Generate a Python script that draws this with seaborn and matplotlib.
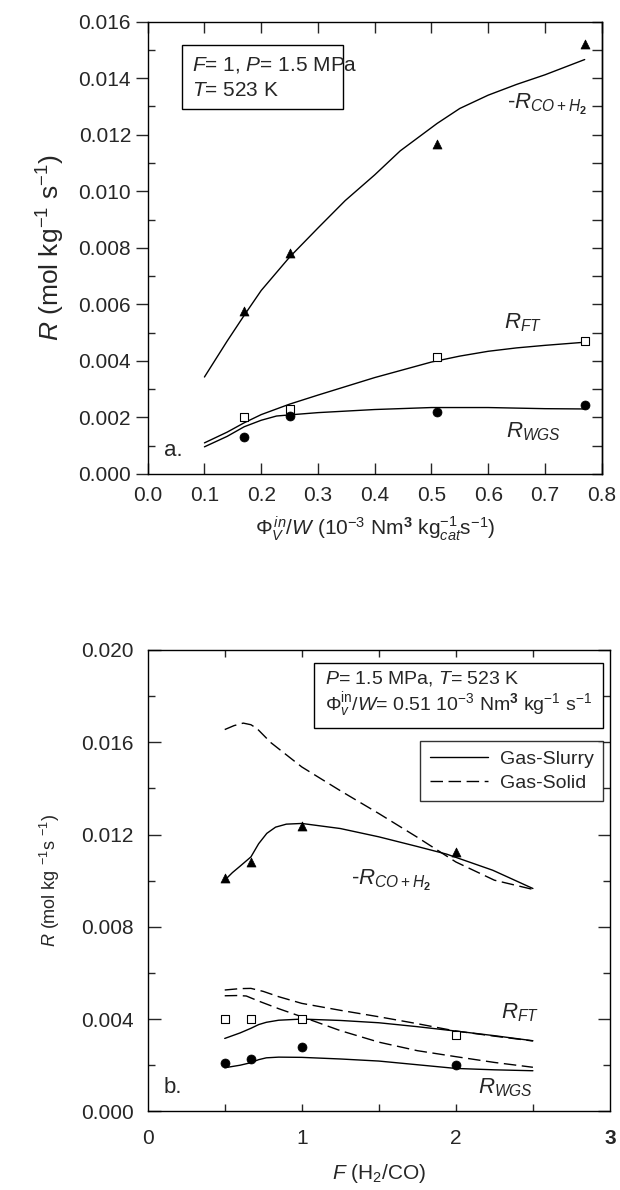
import numpy as np
import pandas as pd
import matplotlib
matplotlib.use("Agg")
import matplotlib.pyplot as plt
from matplotlib.lines import Line2D
from matplotlib.patches import Rectangle
import seaborn as sns

# ---------------- data: panel a (flow rate) ----------------
a_exp_x = [0.17, 0.25, 0.51, 0.77]
a_exp_co_h2 = [0.00578, 0.00780, 0.01166, 0.01521]
a_exp_ft = [0.00202, 0.00229, 0.00414, 0.00470]
a_exp_wgs = [0.00132, 0.00205, 0.00220, 0.00245]

a_mod_co_h2_x = [0.10, 0.14, 0.17, 0.20, 0.25, 0.30, 0.348, 0.40, 0.445, 0.51, 0.55, 0.60, 0.65, 0.70, 0.77]
a_mod_co_h2_y = [0.00343, 0.00470, 0.00561, 0.00649, 0.00767, 0.00870, 0.00967, 0.01058, 0.01143, 0.01240,
                 0.01293, 0.01340, 0.01378, 0.01412, 0.01466]
a_mod_ft_x = [0.10, 0.14, 0.17, 0.20, 0.25, 0.30, 0.40, 0.50, 0.55, 0.60, 0.65, 0.70, 0.77]
a_mod_ft_y = [0.00110, 0.00148, 0.00181, 0.00210, 0.00247, 0.00279, 0.00341, 0.00396, 0.00417, 0.00434,
              0.00446, 0.00455, 0.00466]
a_mod_wgs_x = [0.10, 0.14, 0.17, 0.20, 0.227, 0.25, 0.30, 0.40, 0.50, 0.60, 0.70, 0.77]
a_mod_wgs_y = [0.00096, 0.00133, 0.00167, 0.00190, 0.00205, 0.00209, 0.00217, 0.00228, 0.00235, 0.00235, 0.00231, 0.00230]

# ---------------- data: panel b (feed ratio) ----------------
b_exp_x = [0.5, 0.67, 1.0, 2.0]
b_exp_co_h2 = [0.01012, 0.01080, 0.01236, 0.01126]
b_exp_ft = [0.00400, 0.00400, 0.00400, 0.00331]
b_exp_wgs = [0.00208, 0.00225, 0.00280, 0.00201]

b_slurry_co_h2_x = [0.5, 0.55, 0.60, 0.67, 0.72, 0.773, 0.83, 0.90, 1.0, 1.25, 1.5, 1.75, 1.94, 2.24, 2.5]
b_slurry_co_h2_y = [0.01002, 0.01035, 0.01063, 0.01103, 0.01160, 0.01205, 0.01232, 0.01245, 0.01248, 0.01226,
                    0.01190, 0.01148, 0.01115, 0.01045, 0.00966]
b_solid_co_h2_x = [0.5, 0.56, 0.62, 0.67, 0.71, 0.80, 1.0, 1.25, 1.5, 1.75, 2.0, 2.25, 2.5]
b_solid_co_h2_y = [0.01655, 0.01672, 0.01683, 0.01676, 0.01659, 0.01598, 0.01493, 0.01390, 0.01291, 0.01188,
                   0.01081, 0.01002, 0.00962]

b_slurry_ft_x = [0.5, 0.60, 0.67, 0.72, 0.77, 0.85, 1.0, 1.25, 1.5, 1.75, 2.0, 2.25, 2.5]
b_slurry_ft_y = [0.00316, 0.00340, 0.00360, 0.00376, 0.00386, 0.00395, 0.00400, 0.00394, 0.00384, 0.00367,
                 0.00348, 0.00328, 0.00306]
b_slurry_wgs_x = [0.5, 0.60, 0.67, 0.72, 0.77, 0.85, 1.0, 1.25, 1.5, 1.75, 2.0, 2.25, 2.5]
b_slurry_wgs_y = [0.00189, 0.00200, 0.00211, 0.00224, 0.00232, 0.00235, 0.00234, 0.00227, 0.00218, 0.00202,
                  0.00186, 0.00180, 0.00176]

b_solid_ft_x = [0.5, 0.60, 0.67, 0.75, 0.85, 1.0, 1.25, 1.5, 1.75, 2.0, 2.25, 2.5]
b_solid_ft_y = [0.00526, 0.00532, 0.00533, 0.00520, 0.00497, 0.00468, 0.00438, 0.00410, 0.00380, 0.00348,
                0.00326, 0.00305]
b_solid_wgs_x = [0.5, 0.58, 0.64, 0.72, 0.85, 1.0, 1.25, 1.5, 1.75, 2.0, 2.25, 2.5]
b_solid_wgs_y = [0.00501, 0.00502, 0.00500, 0.00478, 0.00445, 0.00410, 0.00350, 0.00300, 0.00263, 0.00237,
                 0.00212, 0.00191]

a_yticks = [0.000, 0.002, 0.004, 0.006, 0.008, 0.010, 0.012, 0.014, 0.016]
a_xticks = [0.0, 0.1, 0.2, 0.3, 0.4, 0.5, 0.6, 0.7, 0.8]
b_yticks = [0.000, 0.004, 0.008, 0.012, 0.016, 0.020]
b_xticks = [0, 1, 2, 3]
legend_labels = ["Gas-Slurry", "Gas-Solid"]

# ---------------- style ----------------
sns.set_style("ticks")
plt.rcParams["font.family"] = ["Liberation Sans", "DejaVu Sans"]
plt.rcParams["mathtext.fontset"] = "custom"
plt.rcParams["mathtext.rm"] = "Liberation Sans"
plt.rcParams["mathtext.it"] = "Liberation Sans:italic"
plt.rcParams["mathtext.bf"] = "Liberation Sans:bold"
plt.rcParams["axes.linewidth"] = 1.0
plt.rcParams["axes.edgecolor"] = "black"

LW = 1.0
DASH = (0, (9, 4))
FS_TICK = 15

fig = plt.figure(figsize=(6.2, 11.9), dpi=100)
ax1 = fig.add_axes([0.2382, 0.6017, 0.7323, 0.3801])
ax2 = fig.add_axes([0.2382, 0.0661, 0.7456, 0.3877])


def curve(ax, x, y, dashed=False):
    sns.lineplot(x=x, y=y, ax=ax, color="black", lw=LW, estimator=None,
                 linestyle=DASH if dashed else "-")


def pts(ax, x, y, kind):
    if kind == "tri":
        sns.scatterplot(x=x, y=y, ax=ax, marker="^", s=42, color="black", edgecolor="black",
                        linewidth=0.5, zorder=5, clip_on=False)
    elif kind == "circ":
        sns.scatterplot(x=x, y=y, ax=ax, marker="o", s=42, color="black", edgecolor="black",
                        linewidth=0.5, zorder=5, clip_on=False)
    else:
        sns.scatterplot(x=x, y=y, ax=ax, marker="s", s=26, facecolor="white", edgecolor="black",
                        linewidth=0.8, zorder=5, clip_on=False)


# ---------------- panel a ----------------
curve(ax1, a_mod_co_h2_x, a_mod_co_h2_y)
curve(ax1, a_mod_ft_x, a_mod_ft_y)
curve(ax1, a_mod_wgs_x, a_mod_wgs_y)
pts(ax1, a_exp_x, a_exp_co_h2, "tri")
pts(ax1, a_exp_x, a_exp_ft, "sq")
pts(ax1, a_exp_x, a_exp_wgs, "circ")

ax1.set_xlim(0, 0.8)
ax1.set_ylim(0, 0.016)
ax1.set_xticks(a_xticks)
ax1.set_xticklabels([f"{v:.1f}" for v in a_xticks])
ax1.set_yticks(a_yticks)
ax1.set_yticklabels([f"{v:.3f}" for v in a_yticks])
ax1.set_yticks(np.arange(0.001, 0.016, 0.002), minor=True)
ax1.tick_params(axis="x", which="major", direction="in", length=8, width=1, top=True,
                labelsize=FS_TICK, pad=9)
ax1.tick_params(axis="y", which="major", direction="out", length=9, width=1, labelsize=FS_TICK, pad=3)
ax1.tick_params(axis="y", which="minor", direction="in", length=5, width=1)
sec = ax1.secondary_yaxis("right")
sec.set_yticks(np.arange(0.0, 0.0161, 0.001))
sec.tick_params(direction="in", length=7, width=1, labelright=False)
sec.spines["right"].set_linewidth(1.0)

ax1.set_xlabel(r"$\Phi_V^{\,in}/W$ (10$^{-3}$ Nm$^{\mathbf{3}}$ kg$_{cat}^{-1}$s$^{-1}$)", fontsize=15, labelpad=6)
ax1.set_ylabel(r"$R$ (mol kg$^{-1}$ s$^{-1}$)", fontsize=19, labelpad=8)

ax1.add_patch(Rectangle((0.0755, 0.807), 0.355, 0.1415, transform=ax1.transAxes,
                        fill=False, edgecolor="black", lw=1.0))
ax1.text(0.097, 0.904, r"$F$= 1, $P$= 1.5 MPa", transform=ax1.transAxes, fontsize=15, va="center", ha="left")
ax1.text(0.097, 0.847, r"$T$= 523 K", transform=ax1.transAxes, fontsize=15, va="center", ha="left")
ax1.text(0.880, 0.816, r"-$R_{CO+H_{\mathbf{2}}}$", transform=ax1.transAxes, fontsize=16, va="center", ha="center")
ax1.text(0.827, 0.334, r"$R_{FT}$", transform=ax1.transAxes, fontsize=16, va="center", ha="center")
ax1.text(0.849, 0.093, r"$R_{WGS}$", transform=ax1.transAxes, fontsize=16, va="center", ha="center")
ax1.text(0.056, 0.053, "a.", transform=ax1.transAxes, fontsize=16, va="center", ha="center")

# ---------------- panel b ----------------
curve(ax2, b_slurry_co_h2_x, b_slurry_co_h2_y)
curve(ax2, b_solid_co_h2_x, b_solid_co_h2_y, dashed=True)
curve(ax2, b_slurry_ft_x, b_slurry_ft_y)
curve(ax2, b_slurry_wgs_x, b_slurry_wgs_y)
curve(ax2, b_solid_ft_x, b_solid_ft_y, dashed=True)
curve(ax2, b_solid_wgs_x, b_solid_wgs_y, dashed=True)
pts(ax2, b_exp_x, b_exp_co_h2, "tri")
pts(ax2, b_exp_x, b_exp_ft, "sq")
pts(ax2, b_exp_x, b_exp_wgs, "circ")

ax2.set_xlim(0, 3)
ax2.set_ylim(0, 0.020)
ax2.set_xticks(b_xticks)
ax2.set_xticklabels([str(v) for v in b_xticks])
ax2.get_xticklabels()[-1].set_fontweight("bold")
ax2.set_xticks([0.5, 1.5, 2.5], minor=True)
ax2.set_yticks(b_yticks)
ax2.set_yticklabels([f"{v:.3f}" for v in b_yticks])
ax2.set_yticks(np.arange(0.002, 0.020, 0.004), minor=True)
ax2.tick_params(axis="x", which="both", direction="in", length=5, width=1, top=True,
                labelsize=FS_TICK, pad=13)
ax2.tick_params(axis="y", which="major", direction="in", length=9, width=1, right=True,
                labelsize=FS_TICK, pad=10)
ax2.tick_params(axis="y", which="minor", direction="in", length=5, width=1, right=True)
for t in ax2.xaxis.get_major_ticks():
    t.tick1line.set_visible(False)
    t.tick2line.set_visible(False)
for t in ax2.xaxis.get_major_ticks()[1:3]:
    t.tick1line.set_visible(True)
    t.tick2line.set_visible(True)

ax2.set_xlabel(r"$F$ (H$_2$/CO)", fontsize=15, labelpad=10)
ax2.set_ylabel(r"$R$ (mol kg $^{-1}$s $^{-1}$)", fontsize=13, labelpad=14)

ax2.add_patch(Rectangle((0.360, 0.830), 0.625, 0.142, transform=ax2.transAxes,
                        fill=False, edgecolor="black", lw=1.0))
ax2.text(0.384, 0.939, r"$P$= 1.5 MPa, $T$= 523 K", transform=ax2.transAxes, fontsize=14, va="center", ha="left")
ax2.text(0.384, 0.881, r"$\Phi_v^{\rm in}/W$= 0.51 10$^{-3}$ Nm$^{\mathbf{3}}$ kg$^{-1}$ s$^{-1}$",
         transform=ax2.transAxes, fontsize=14, va="center", ha="left")

handles = [Line2D([], [], color="black", lw=LW),
           Line2D([], [], color="black", lw=LW, linestyle=DASH)]
leg = ax2.legend(handles, legend_labels, loc="upper left", bbox_to_anchor=(0.589, 0.803),
                 frameon=True, fancybox=False, edgecolor="black", fontsize=14,
                 handlelength=3.0, handletextpad=0.6, borderpad=0.5, labelspacing=0.3,
                 borderaxespad=0.0)
leg.get_frame().set_linewidth(1.0)

ax2.text(0.526, 0.501, r"-$R_{CO+H_{\mathbf{2}}}$", transform=ax2.transAxes, fontsize=16, va="center", ha="center")
ax2.text(0.805, 0.213, r"$R_{FT}$", transform=ax2.transAxes, fontsize=16, va="center", ha="center")
ax2.text(0.775, 0.051, r"$R_{WGS}$", transform=ax2.transAxes, fontsize=16, va="center", ha="center")
ax2.text(0.055, 0.051, "b.", transform=ax2.transAxes, fontsize=16, va="center", ha="center")

fig.savefig("out.png", dpi=100)
